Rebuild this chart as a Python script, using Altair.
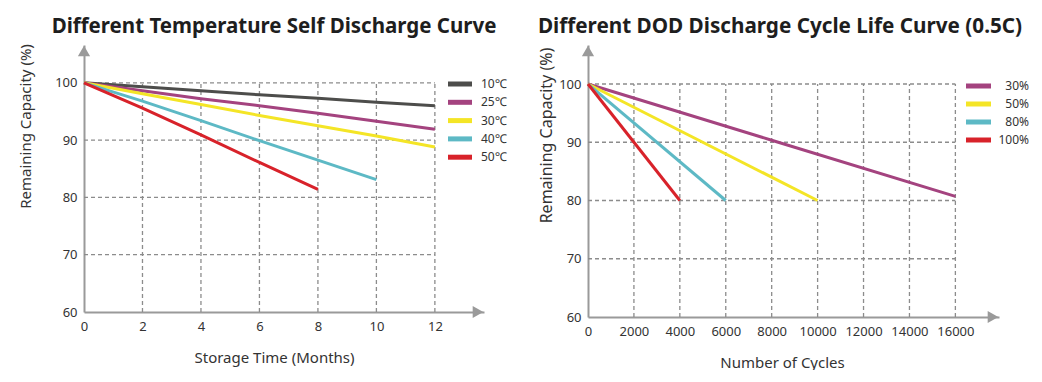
import altair as alt
import pandas as pd

FONT = "Noto Sans"
GRID = "#8c8c8c"
AXIS = "#9a9a9a"

# ---- Left chart data ----
months = [0, 2, 4, 6, 8, 10, 12]
t10 = [100, 99.3, 98.6, 97.9, 97.3, 96.6, 96.0]
t25 = [100, 98.6, 97.2, 96.0, 94.7, 93.3, 91.9]
t30 = [100, 98.1, 96.2, 94.3, 92.5, 90.7, 88.8]
t40 = [100, 96.8, 93.4, 89.9, 86.5, 83.1]
t50 = [100, 95.6, 90.9, 86.1, 81.4]
temp_labels = ["10℃", "25℃", "30℃", "40℃", "50℃"]
temp_colors = ["#4d4d4b", "#a4437f", "#f4e526", "#5db9c5", "#d8222a"]

# ---- Right chart data ----
cycles_30 = [0, 8000, 16000]
dod30 = [100, 90.35, 80.7]
cycles_50 = [0, 10000]
dod50 = [100, 80]
cycles_80 = [0, 6000]
dod80 = [100, 80]
cycles_100 = [0, 4000]
dod100 = [100, 80]
dod_labels = ["30%", "50%", "80%", "100%"]
dod_colors = ["#a4437f", "#f4e526", "#5db9c5", "#d8222a"]

left_x_ticks = [0, 2, 4, 6, 8, 10, 12]
right_x_ticks = [0, 2000, 4000, 6000, 8000, 10000, 12000, 14000, 16000]
y_ticks = [60, 70, 80, 90, 100]

rows = []
for lab, ys in zip(temp_labels, [t10, t25, t30, t40, t50]):
    for x, y in zip(months, ys):
        rows.append({"x": x, "y": y, "s": lab})
left_df = pd.DataFrame(rows)

rows = []
for lab, xs, ys in zip(dod_labels, [cycles_30, cycles_50, cycles_80, cycles_100],
                       [dod30, dod50, dod80, dod100]):
    for x, y in zip(xs, ys):
        rows.append({"x": x, "y": y, "s": lab})
right_df = pd.DataFrame(rows)


def panel(df, labels, colors, xticks, xmax_data, xdom, ydom, w, h, xtitle,
          xtitle_pos, ytitle_pos, ytitle_size, title, title_size, title_x, leg_x,
          leg_y0, leg_step, leg_text_x, leg_align):
    xs = alt.Scale(domain=xdom, nice=False, zero=False)
    ys = alt.Scale(domain=ydom, nice=False, zero=False)
    color = alt.Color("s:N", scale=alt.Scale(domain=labels, range=colors), legend=None)

    base = alt.Chart(df)
    axis_x = alt.Axis(values=xticks, format="d", grid=False, ticks=False,
                      domainColor=AXIS, domainWidth=2, labelFont=FONT,
                      labelFontSize=13, labelColor="#333", labelPadding=8,
                      title=xtitle, titleFont=FONT, titleFontSize=15,
                      titleFontWeight="normal", titleColor="#333",
                      titleX=xtitle_pos[0], titleY=xtitle_pos[1],
                      titleBaseline="middle", titleAlign="center", labelFlush=False)
    axis_y = alt.Axis(values=y_ticks, format="d", grid=False, ticks=False,
                      domainColor=AXIS, domainWidth=2, labelFont=FONT,
                      labelFontSize=13, labelColor="#333", labelPadding=7,
                      title="Remaining Capacity (%)", titleFont=FONT,
                      titleFontSize=ytitle_size, titleFontWeight="normal",
                      titleColor="#333",
                      titleX=ytitle_pos[0], titleY=ytitle_pos[1],
                      titleBaseline="middle", titleAlign="center", labelFlush=False)

    vgrid = alt.Chart(pd.DataFrame({"v": [t for t in xticks if t > 0]})).mark_rule(
        color=GRID, strokeDash=[4, 3], strokeWidth=1.3).encode(
        x=alt.X("v:Q", scale=xs, axis=axis_x),
        y=alt.datum(ydom[0], scale=ys), y2=alt.datum(100))
    hgrid = alt.Chart(pd.DataFrame({"v": [70, 80, 90, 100]})).mark_rule(
        color=GRID, strokeDash=[4, 3], strokeWidth=1.3).encode(
        y=alt.Y("v:Q", scale=ys, axis=axis_y),
        x=alt.datum(0), x2=alt.datum(xmax_data))

    lines = base.mark_line(strokeWidth=3).encode(
        x=alt.X("x:Q", scale=xs), y=alt.Y("y:Q", scale=ys), color=color,
        detail="s:N")

    arrow_r = alt.Chart(pd.DataFrame({"a": [0]})).mark_point(
        shape="triangle-right", filled=True, color=AXIS, size=150, opacity=1).encode(
        x=alt.value(w - 6), y=alt.value(h))
    arrow_u = alt.Chart(pd.DataFrame({"a": [0]})).mark_point(
        shape="triangle-up", filled=True, color=AXIS, size=150, opacity=1).encode(
        x=alt.value(0), y=alt.value(6))

    leg = pd.DataFrame({"s": labels, "i": list(range(len(labels)))})
    leg_sw = alt.Chart(leg).transform_calculate(
        yp=f"{leg_y0} + datum.i * {leg_step}").mark_rule(strokeWidth=5).encode(
        x=alt.value(leg_x[0]), x2=alt.value(leg_x[1]),
        y=alt.Y("yp:Q", scale=None), color=color)
    leg_tx = alt.Chart(leg).transform_calculate(
        yp=f"{leg_y0} + datum.i * {leg_step}").mark_text(
        font=FONT, fontSize=12, color="#333", align=leg_align,
        baseline="middle").encode(
        x=alt.value(leg_text_x), y=alt.Y("yp:Q", scale=None), text="s:N")

    ttl = alt.Chart(pd.DataFrame({"t": [title]})).mark_text(
        font=FONT, fontSize=title_size, fontWeight="bold", color="#1e1e1e",
        align="center", baseline="alphabetic").encode(
        x=alt.value(title_x), y=alt.value(-12), text="t:N")

    return alt.layer(hgrid, vgrid, lines, arrow_r, arrow_u, leg_sw, leg_tx,
                     ttl).properties(width=w, height=h)


left = panel(left_df, temp_labels, temp_colors, left_x_ticks, 12, [0, 13.68],
             [60, 106.6], 400, 267, "Storage Time (Months)", (190, 45), (-59, 81), 15,
             "Different Temperature Self Discharge Curve", 20.5, 190,
             (364, 388), 39, 18.3, 397, "left")
right = panel(right_df, dod_labels, dod_colors, right_x_ticks, 16000, [0, 17900],
              [60, 106.7], 411, 272, "Number of Cycles", (194, 45), (-42, 90), 16,
              "Different DOD Discharge Cycle Life Curve (0.5C)", 20.7, 192,
              (378, 403), 41, 18, 441, "right")

chart = alt.hconcat(left, right, spacing=104, bounds="flush").resolve_scale(
    color="independent").properties(
    padding={"left": 9, "top": 8, "right": 0, "bottom": 0},
).configure_view(stroke=None)

chart.save("out.html", embed_options={"renderer": "svg", "actions": False})
